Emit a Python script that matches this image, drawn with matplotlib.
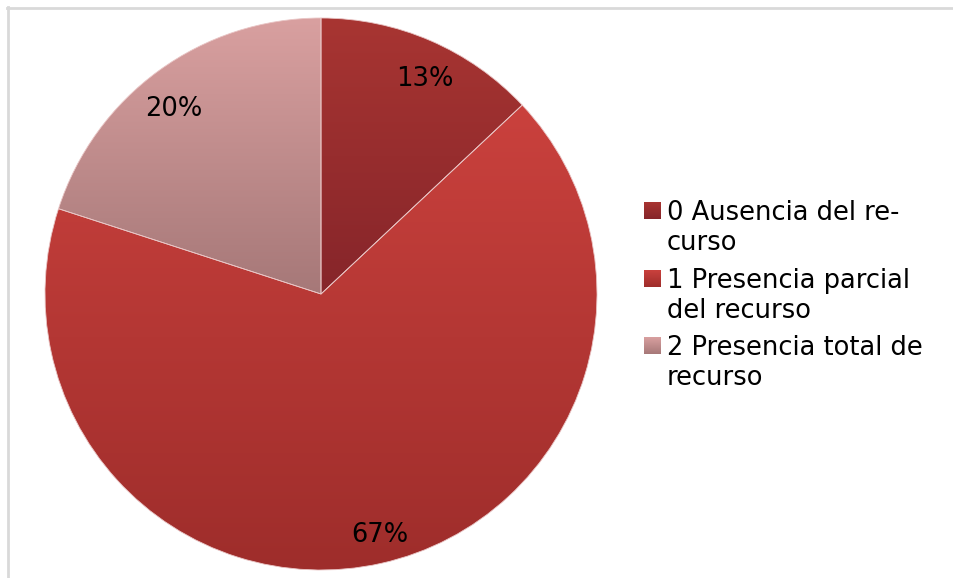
import numpy as np
import matplotlib.pyplot as plt
from matplotlib.colors import LinearSegmentedColormap
from matplotlib.lines import Line2D

# data
labels = ['0 Ausencia del re-\ncurso',
          '1 Presencia parcial\ndel recurso',
          '2 Presencia total de\nrecurso']
values = [13, 67, 20]
# (top colour, bottom colour) of each slice's vertical gradient
grad_colors = [('#A83532', '#86252A'),
               ('#CA413D', '#9E2D2B'),
               ('#D9A0A0', '#A67878')]

W, H = 954, 578
fig = plt.figure(figsize=(W / 100, H / 100), dpi=100)

# light grey frame (only top and left visible)
fig.add_artist(Line2D([7 / W, 1], [1 - 8 / H, 1 - 8 / H], color='#D9D9D9', lw=2))
fig.add_artist(Line2D([8 / W, 8 / W], [0, 1 - 7 / H], color='#D9D9D9', lw=2))

cx, cy, r = 321, 294, 276
ax = fig.add_axes([(cx - r) / W, (H - cy - r) / H, 2 * r / W, 2 * r / H])

wedges, texts, autotexts = ax.pie(values, startangle=90, counterclock=False,
                                  autopct='%.0f%%', pctdistance=0.875,
                                  radius=1, textprops={'fontsize': 18.5, 'color': 'black'},
                                  wedgeprops={'edgecolor': '#E9C5C5', 'linewidth': 0.6})

# small nudges (px) so the labels sit where the original put them
nudges = [(8, 7), (6, 5), (-5, 10)]
for t, (dx, dy) in zip(autotexts, nudges):
    x, y = t.get_position()
    t.set_position((x + dx / r, y - dy / r))

grad = np.linspace(0, 1, 256).reshape(-1, 1)
for w, (top, bot) in zip(wedges, grad_colors):
    cmap = LinearSegmentedColormap.from_list('g', [top, bot])
    ext = w.get_path().get_extents()
    w.set_facecolor('none')
    im = ax.imshow(grad, cmap=cmap, aspect='auto', origin='upper',
                   extent=[ext.x0, ext.x1, ext.y0, ext.y1], zorder=0.5)
    im.set_clip_path(w)

ax.set_xlim(-1, 1)
ax.set_ylim(-1, 1)
ax.set_aspect('equal')
ax.axis('off')

# legend drawn by hand
tops = [202, 270, 337]
for lab, (top, bot), ty in zip(labels, grad_colors, tops):
    max_ = fig.add_axes([644 / W, 1 - (ty + 17) / H, 17 / W, 17 / H])
    max_.imshow(grad, cmap=LinearSegmentedColormap.from_list('g', [top, bot]),
                aspect='auto')
    max_.axis('off')
    fig.text(667 / W, 1 - (ty - 2) / H, lab, fontsize=18.5, va='top', ha='left',
             linespacing=1.2)

fig.savefig('out.png', dpi=100)
